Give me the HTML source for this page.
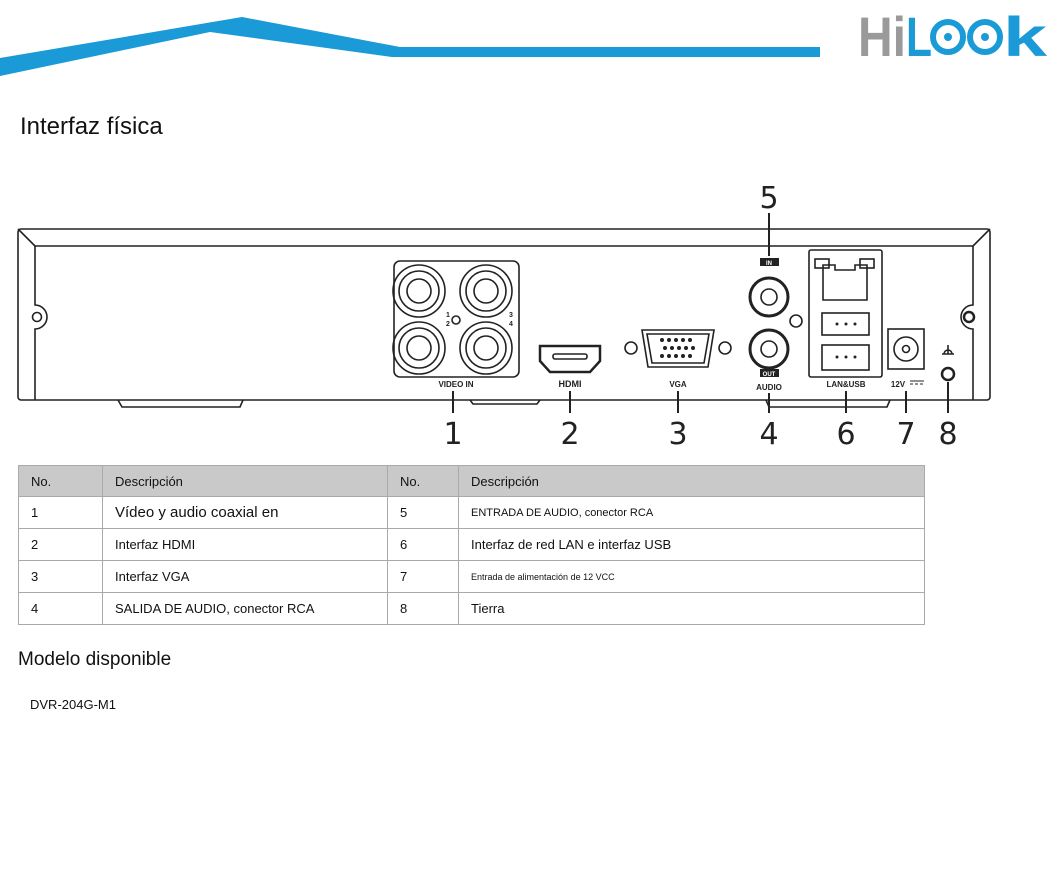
<!DOCTYPE html>
<html><head><meta charset="utf-8"><style>
body{margin:0;width:1061px;height:877px;background:#fff;font-family:"Liberation Sans",sans-serif;position:relative;overflow:hidden}
.t{position:absolute;white-space:nowrap;color:#111}
table{position:absolute;left:18px;top:465px;border-collapse:collapse;width:907px;font-size:13px}
td{border:1px solid #aaa;padding:0 0 0 12px;height:31px;color:#111}
tr.h td{background:#c9c9c9;height:30px}
</style></head><body>
<svg width="1061" height="877" style="position:absolute;left:0;top:0">
<polygon points="0,58 242,17 400,47 820,47 820,57 392,57 210,32 0,76" fill="#1a9ad6"/>
<text x="858" y="56" font-family="Liberation Sans" font-weight="bold" font-size="56" fill="#9a9a9a" textLength="48" lengthAdjust="spacingAndGlyphs">Hi</text>
<text x="906" y="56" font-family="Liberation Sans" font-weight="bold" font-size="56" fill="#1a9ad6" textLength="26" lengthAdjust="spacingAndGlyphs">L</text>
<g fill="none" stroke="#1a9ad6" stroke-width="6"><circle cx="948" cy="37" r="15"/><circle cx="985" cy="37" r="15"/></g>
<circle cx="948" cy="37" r="4" fill="#1a9ad6"/><circle cx="985" cy="37" r="4" fill="#1a9ad6"/>
<text x="1003" y="56" font-family="Liberation Sans" font-weight="bold" font-size="56" fill="#1a9ad6" textLength="44" lengthAdjust="spacingAndGlyphs">k</text>

<g fill="none" stroke="#222" stroke-width="1.6">
<rect x="18" y="229" width="972" height="171" rx="3"/>
<line x1="35" y1="246" x2="973" y2="246"/>
<line x1="18" y1="229" x2="35" y2="246"/><line x1="990" y1="229" x2="973" y2="246"/>
<path d="M35 246 V305 a12 12 0 0 1 0 24 V400"/>
<path d="M973 246 V305 a12 12 0 0 0 0 24 V400"/>
<circle cx="37" cy="317" r="4.5"/><circle cx="969" cy="317" r="5" stroke-width="2.5"/>
<path d="M118 400 l4 7 h118 l3 -7"/><path d="M470 400 l3 4 h64 l3 -4"/><path d="M766 400 l3 7 h118 l3 -7"/>
<rect x="394" y="261" width="125" height="116" rx="6"/>
<circle cx="419" cy="291" r="26"/><circle cx="419" cy="291" r="20"/><circle cx="419" cy="291" r="12"/>
<circle cx="486" cy="291" r="26"/><circle cx="486" cy="291" r="20"/><circle cx="486" cy="291" r="12"/>
<circle cx="419" cy="348" r="26"/><circle cx="419" cy="348" r="20"/><circle cx="419" cy="348" r="12"/>
<circle cx="486" cy="348" r="26"/><circle cx="486" cy="348" r="20"/><circle cx="486" cy="348" r="12"/>
<circle cx="456" cy="320" r="4"/>
<path d="M540 346 h60 v15 l-10 11 h-40 l-10 -11 z" stroke-width="2.5"/><rect x="553" y="354" width="34" height="5" rx="2"/>
<path d="M642 330 h72 l-6 37 h-60 z" rx="4"/><path d="M647 334 h62 l-5 29 h-52 z"/>
<circle cx="631" cy="348" r="6"/><circle cx="725" cy="348" r="6"/>
<circle cx="769" cy="297" r="19" stroke-width="3"/><circle cx="769" cy="297" r="8"/>
<circle cx="769" cy="349" r="19" stroke-width="3"/><circle cx="769" cy="349" r="8"/>
<circle cx="796" cy="321" r="6"/>
<rect x="809" y="250" width="73" height="127" rx="2"/>
<path d="M823 265 h12 v5 h20 v-5 h12 v35 h-44 z"/>
<rect x="815" y="259" width="14" height="9"/><rect x="860" y="259" width="14" height="9"/>
<rect x="822" y="313" width="47" height="22"/><rect x="822" y="345" width="47" height="25"/>
<rect x="888" y="329" width="36" height="40"/><circle cx="906" cy="349" r="12"/><circle cx="906" cy="349" r="3.5"/>
<circle cx="948" cy="374" r="6" stroke-width="2.5"/>
<path d="M942 354 h12 M944 354 a4 4 0 0 1 8 0 M948 345 v9"/>
<g stroke-width="2"><line x1="453" y1="391" x2="453" y2="413"/><line x1="570" y1="391" x2="570" y2="413"/><line x1="678" y1="391" x2="678" y2="413"/><line x1="769" y1="393" x2="769" y2="413"/><line x1="846" y1="391" x2="846" y2="413"/><line x1="906" y1="391" x2="906" y2="413"/><line x1="948" y1="382" x2="948" y2="413"/><line x1="769" y1="213" x2="769" y2="256"/></g>
</g>
<g fill="#222"><circle cx="837" cy="324" r="1.5"/><circle cx="846" cy="324" r="1.5"/><circle cx="855" cy="324" r="1.5"/><circle cx="837" cy="357" r="1.5"/><circle cx="846" cy="357" r="1.5"/><circle cx="855" cy="357" r="1.5"/>
<rect x="760" y="258" width="19" height="8"/><rect x="760" y="369" width="19" height="8"/></g>
<g fill="#222"><circle cx="662" cy="340" r="2"/><circle cx="669" cy="340" r="2"/><circle cx="676" cy="340" r="2"/><circle cx="683" cy="340" r="2"/><circle cx="690" cy="340" r="2"/><circle cx="665" cy="348" r="2"/><circle cx="672" cy="348" r="2"/><circle cx="679" cy="348" r="2"/><circle cx="686" cy="348" r="2"/><circle cx="693" cy="348" r="2"/><circle cx="662" cy="356" r="2"/><circle cx="669" cy="356" r="2"/><circle cx="676" cy="356" r="2"/><circle cx="683" cy="356" r="2"/><circle cx="690" cy="356" r="2"/></g>
<g font-family="Liberation Sans" font-weight="bold" font-size="8" fill="#222" text-anchor="middle">
<text x="456" y="387">VIDEO IN</text><text x="570" y="387" font-size="9">HDMI</text><text x="678" y="387">VGA</text>
<text x="769" y="390">AUDIO</text><text x="846" y="387">LAN&amp;USB</text><text x="898" y="387">12V</text>
<text x="448" y="317" font-size="7">1</text><text x="448" y="326" font-size="7">2</text><text x="511" y="317" font-size="7">3</text><text x="511" y="326" font-size="7">4</text>
<text x="769" y="265" font-size="6" fill="#fff">IN</text><text x="769" y="376" font-size="6" fill="#fff">OUT</text>
</g>
<path d="M910 381 h14 M910 384 h3 M915 384 h3 M920 384 h3" stroke="#222"/>
<g font-family="DejaVu Sans" font-size="30" fill="#222" text-anchor="middle">
<text x="453" y="444">1</text><text x="570" y="444">2</text><text x="678" y="444">3</text><text x="769" y="444">4</text><text x="846" y="444">6</text><text x="906" y="444">7</text><text x="948" y="444">8</text><text x="769" y="208">5</text>
</g>
</svg>
<div class="t" style="left:20px;top:113px;font-size:24px">Interfaz física</div>
<table>
<tr class="h"><td style="width:71px">No.</td><td style="width:272px">Descripción</td><td style="width:58px">No.</td><td>Descripción</td></tr>
<tr><td>1</td><td style="font-size:15px">Vídeo y audio coaxial en</td><td>5</td><td style="font-size:11px">ENTRADA DE AUDIO, conector RCA</td></tr>
<tr><td>2</td><td>Interfaz HDMI</td><td>6</td><td>Interfaz de red LAN e interfaz USB</td></tr>
<tr><td>3</td><td>Interfaz VGA</td><td>7</td><td style="font-size:9px">Entrada de alimentación de 12 VCC</td></tr>
<tr><td>4</td><td>SALIDA DE AUDIO, conector RCA</td><td>8</td><td>Tierra</td></tr>
</table>
<div class="t" style="left:18px;top:649px;font-size:19px">Modelo disponible</div>
<div class="t" style="left:30px;top:697px;font-size:13px">DVR-204G-M1</div>
</body></html>
